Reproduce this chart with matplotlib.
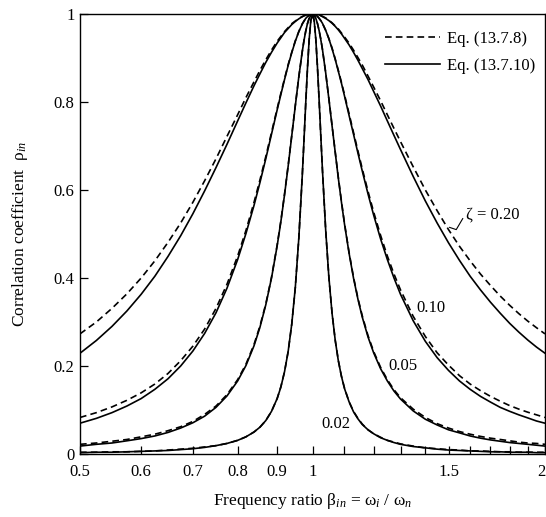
import numpy as np
import matplotlib
matplotlib.use("Agg")
import matplotlib.pyplot as plt
from matplotlib.transforms import ScaledTranslation

plt.rcParams['font.family'] = ['Liberation Serif', 'DejaVu Serif']
plt.rcParams['mathtext.fontset'] = 'custom'
plt.rcParams['mathtext.rm'] = 'Liberation Serif'
plt.rcParams['mathtext.it'] = 'Liberation Serif:italic'

# ---- data: frequency ratio and correlation coefficients ----
beta = [0.5, 0.55, 0.6, 0.65, 0.7, 0.75, 0.8, 0.84, 0.87, 0.9, 0.92, 0.94, 0.95, 0.96, 0.97, 0.975, 0.98, 0.985, 0.99, 0.995, 1.0, 1.005, 1.01, 1.015, 1.02, 1.025, 1.03, 1.04, 1.05, 1.06, 1.08, 1.1, 1.13, 1.16, 1.2, 1.25, 1.3, 1.4, 1.5, 1.6, 1.7, 1.8, 1.9, 2.0]
rho_dk_020 = [0.229,0.290,0.363,0.449,0.546,0.651,0.757,0.837,0.890,0.934,0.958,0.976,0.983,0.989,0.994,0.996,0.997,0.999,0.999,1.000,1.000,1.000,0.999,0.999,0.998,0.996,0.994,0.990,0.985,0.979,0.964,0.945,0.913,0.876,0.824,0.757,0.692,0.575,0.480,0.404,0.345,0.297,0.259,0.229]
rho_re_020 = [0.273,0.331,0.400,0.481,0.572,0.671,0.771,0.846,0.896,0.938,0.960,0.978,0.984,0.990,0.994,0.996,0.998,0.999,0.999,1.000,1.000,1.000,0.999,0.999,0.998,0.996,0.995,0.991,0.986,0.980,0.966,0.948,0.918,0.884,0.834,0.771,0.710,0.600,0.510,0.439,0.383,0.338,0.302,0.273]
rho_dk_010 = [0.070,0.094,0.126,0.171,0.234,0.321,0.442,0.565,0.671,0.782,0.851,0.912,0.938,0.960,0.977,0.984,0.990,0.994,0.997,0.999,1.000,0.999,0.998,0.994,0.990,0.985,0.979,0.963,0.944,0.921,0.870,0.814,0.727,0.643,0.543,0.442,0.363,0.256,0.190,0.147,0.118,0.097,0.082,0.070]
rho_re_010 = [0.083,0.107,0.139,0.183,0.245,0.331,0.450,0.572,0.676,0.785,0.853,0.913,0.939,0.960,0.978,0.984,0.990,0.994,0.998,0.999,1.000,0.999,0.998,0.995,0.990,0.985,0.979,0.963,0.944,0.923,0.872,0.817,0.731,0.648,0.550,0.450,0.373,0.267,0.202,0.159,0.131,0.110,0.095,0.083]
rho_dk_005 = [0.018,0.025,0.035,0.049,0.071,0.106,0.166,0.246,0.339,0.473,0.589,0.723,0.791,0.857,0.915,0.940,0.961,0.978,0.990,0.997,1.000,0.998,0.990,0.978,0.962,0.942,0.920,0.867,0.807,0.746,0.627,0.523,0.400,0.311,0.230,0.166,0.125,0.079,0.055,0.041,0.032,0.026,0.022,0.018]
rho_re_005 = [0.022,0.029,0.039,0.053,0.074,0.109,0.169,0.249,0.341,0.475,0.591,0.724,0.792,0.857,0.915,0.940,0.961,0.978,0.990,0.998,1.000,0.998,0.990,0.978,0.962,0.943,0.920,0.867,0.808,0.747,0.629,0.525,0.402,0.314,0.233,0.169,0.128,0.083,0.059,0.045,0.036,0.030,0.025,0.022]
rho_dk_002 = [0.003,0.004,0.006,0.008,0.012,0.019,0.031,0.050,0.076,0.126,0.187,0.295,0.378,0.490,0.633,0.714,0.797,0.875,0.941,0.985,1.000,0.985,0.942,0.878,0.803,0.724,0.647,0.510,0.402,0.320,0.212,0.149,0.096,0.067,0.046,0.031,0.022,0.014,0.009,0.007,0.005,0.004,0.004,0.003]
rho_re_002 = [0.004,0.005,0.006,0.009,0.013,0.019,0.031,0.050,0.076,0.126,0.187,0.295,0.378,0.490,0.633,0.714,0.797,0.875,0.941,0.985,1.000,0.985,0.942,0.878,0.803,0.724,0.647,0.510,0.402,0.321,0.213,0.150,0.097,0.068,0.046,0.031,0.023,0.014,0.010,0.007,0.006,0.005,0.004,0.004]

# additional readings between the points above
beta_extra = [0.525, 0.575, 0.625, 0.675, 0.725, 0.775, 0.82, 0.855, 0.885, 0.91, 0.93, 1.07, 1.09, 1.115, 1.145, 1.18, 1.225, 1.275, 1.35, 1.45, 1.55, 1.65, 1.75, 1.85, 1.95]
rho_dk_020_extra = [.258,.325,.404,.496,.598,.704,.798,.864,.913,.946,.967,.972,.955,.930,.895,.851,.791,.724,.631,.525,.440,.373,.320,.277,.243]
rho_re_020_extra = [.300,.364,.439,.525,.621,.722,.810,.872,.918,.949,.969,.973,.957,.934,.901,.859,.803,.740,.653,.553,.472,.409,.359,.319,.287]
rho_dk_010_extra = [.081,.109,.147,.200,.274,.377,.501,.617,.727,.817,.883,.897,.843,.770,.684,.591,.489,.400,.303,.219,.166,.131,.106,.089,.075]
rho_re_010_extra = [.094,.122,.159,.212,.284,.386,.508,.623,.731,.820,.885,.898,.845,.774,.689,.597,.497,.409,.313,.230,.178,.144,.120,.102,.089]
rho_dk_005_extra = [.022,.030,.041,.059,.086,.132,.201,.288,.400,.528,.654,.686,.573,.457,.352,.266,.194,.143,.098,.066,.048,.036,.029,.024,.020]
rho_re_005_extra = [.025,.033,.045,.062,.090,.135,.204,.291,.402,.530,.656,.687,.575,.459,.354,.269,.197,.146,.102,.069,.051,.040,.033,.027,.024]
rho_dk_002_extra = [.004,.005,.007,.010,.015,.024,.039,.061,.097,.152,.233,.259,.177,.119,.080,.055,.037,.026,.017,.011,.008,.006,.005,.004,.003]
rho_re_002_extra = [.004,.005,.007,.011,.016,.024,.039,.061,.097,.153,.233,.259,.177,.119,.081,.055,.038,.027,.018,.012,.009,.007,.005,.004,.004]

zeta_labels = ['ζ = 0.20', '0.10', '0.05', '0.02']
legend_labels = ['Eq. (13.7.8)', 'Eq. (13.7.10)']
xtick_values = [0.5, 0.6, 0.7, 0.8, 0.9, 1.0, 1.1, 1.2, 1.3, 1.4, 1.5, 1.6, 1.7, 1.8, 1.9, 2.0]
xtick_labels = ['0.5', '0.6', '0.7', '0.8', '0.9', '1', '', '', '', '', '1.5', '', '', '', '', '2']
ytick_values = [0, 0.2, 0.4, 0.6, 0.8, 1.0]
ytick_labels = ['0', '0.2', '0.4', '0.6', '0.8', '1']

# ---- figure ----
bb = np.array(beta + beta_extra)
order = np.argsort(bb)
bx = bb[order]

def merged(main, extra):
    return np.array(main + extra)[order]

fig = plt.figure(figsize=(5.46, 5.17), dpi=100)
ax = fig.add_axes([80/546, 63/517, 465/546, 440/517])

dash = (0, (4, 2.5))
lw = 1.2
pairs = [(rho_re_020, rho_re_020_extra, rho_dk_020, rho_dk_020_extra),
         (rho_re_010, rho_re_010_extra, rho_dk_010, rho_dk_010_extra),
         (rho_re_005, rho_re_005_extra, rho_dk_005, rho_dk_005_extra),
         (rho_re_002, rho_re_002_extra, rho_dk_002, rho_dk_002_extra)]
for re_m, re_e, dk_m, dk_e in pairs:
    ax.plot(bx, merged(re_m, re_e), color='black', lw=lw, linestyle=dash)
    ax.plot(bx, merged(dk_m, dk_e), color='black', lw=lw, linestyle='-')

ax.set_xscale('log')
ax.set_xlim(0.5, 2.0)
ax.set_ylim(0, 1)
ax.xaxis.set_minor_locator(matplotlib.ticker.NullLocator())
ax.set_xticks(xtick_values)
ax.set_xticklabels(xtick_labels)
ax.set_yticks(ytick_values)
ax.set_yticklabels(ytick_labels)
ax.tick_params(direction='in', length=6, width=0.9, labelsize=12, top=False, right=False)
ax.tick_params(axis='x', pad=7)
ax.tick_params(axis='y', pad=4)
for s in ax.spines.values():
    s.set_linewidth(1.0)
last = ax.get_xticklabels()[-1]
last.set_transform(last.get_transform() + ScaledTranslation(-4/100, 0, fig.dpi_scale_trans))

ax.set_xlabel(r'Frequency ratio $\mathrm{\beta}_{in}$ = $\mathrm{\omega}_i$ / $\mathrm{\omega}_n$', fontsize=12.5, labelpad=8)
ax.set_ylabel(r'Correlation coefficient  $\mathrm{\rho}_{in}$', fontsize=12.5, labelpad=17)

ax.text(1.58, 0.545, zeta_labels[0], fontsize=12, ha='left', va='center')
ax.plot([1.505, 1.535, 1.565], [0.515, 0.51, 0.535], color='black', lw=0.8)
ax.text(1.425, 0.332, zeta_labels[1], fontsize=12, ha='center', va='center')
ax.text(1.311, 0.199, zeta_labels[2], fontsize=12, ha='center', va='center')
ax.text(1.071, 0.069, zeta_labels[3], fontsize=12, ha='center', va='center')

h1, = ax.plot([], [], color='black', lw=lw, linestyle=dash)
h2, = ax.plot([], [], color='black', lw=lw, linestyle='-')
ax.legend([h1, h2], legend_labels, loc='upper left', bbox_to_anchor=(0.656, 0.962),
          frameon=False, fontsize=12, handlelength=3.3, handletextpad=0.4, borderpad=0, borderaxespad=0,
          labelspacing=0.65)

fig.savefig("out.png", dpi=100)
